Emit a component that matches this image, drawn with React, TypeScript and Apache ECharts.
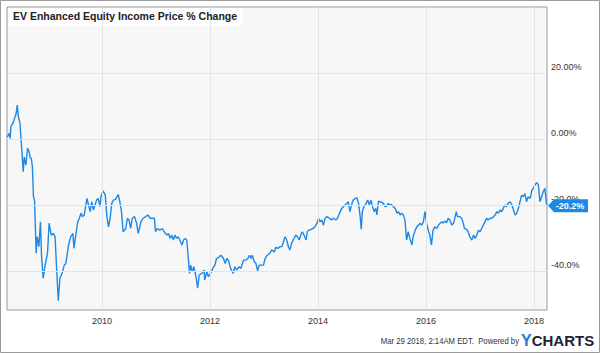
import React, { useEffect, useRef } from "react";
import * as echarts from "echarts";

const years: number[] = [
  2008.24, 2008.25, 2008.28, 2008.30, 2008.31, 2008.36, 2008.41, 2008.43, 2008.45, 2008.48,
  2008.51, 2008.54, 2008.56, 2008.59, 2008.62, 2008.65, 2008.67, 2008.69, 2008.71, 2008.73,
  2008.75, 2008.78, 2008.80, 2008.83, 2008.86, 2008.88, 2008.91, 2008.94, 2008.99, 2009.02,
  2009.06, 2009.10, 2009.13, 2009.16, 2009.19, 2009.22, 2009.26, 2009.30, 2009.33, 2009.38,
  2009.42, 2009.46, 2009.48, 2009.51, 2009.55, 2009.58, 2009.61, 2009.64, 2009.67, 2009.72,
  2009.75, 2009.78, 2009.81, 2009.84, 2009.87, 2009.90, 2009.93, 2009.96, 2009.98, 2010.02,
  2010.06, 2010.09, 2010.12, 2010.15, 2010.18, 2010.21, 2010.25, 2010.30, 2010.33, 2010.36,
  2010.39, 2010.44, 2010.47, 2010.50, 2010.53, 2010.56, 2010.60, 2010.64, 2010.67, 2010.72,
  2010.76, 2010.81, 2010.85, 2010.89, 2010.93, 2010.97, 2010.99, 2011.02, 2011.07, 2011.12,
  2011.15, 2011.20, 2011.23, 2011.26, 2011.29, 2011.32, 2011.35, 2011.38, 2011.41, 2011.44,
  2011.48, 2011.51, 2011.54, 2011.57, 2011.60, 2011.62, 2011.64, 2011.67, 2011.70, 2011.74,
  2011.77, 2011.80, 2011.85, 2011.89, 2011.90, 2011.94, 2011.97, 2012.01, 2012.05, 2012.09,
  2012.12, 2012.17, 2012.20, 2012.25, 2012.28, 2012.31, 2012.34, 2012.38, 2012.43, 2012.46,
  2012.49, 2012.54, 2012.57, 2012.62, 2012.66, 2012.70, 2012.73, 2012.76, 2012.78, 2012.82,
  2012.85, 2012.88, 2012.91, 2012.96, 2012.99, 2013.02, 2013.06, 2013.11, 2013.14, 2013.19,
  2013.22, 2013.26, 2013.30, 2013.33, 2013.36, 2013.39, 2013.42, 2013.45, 2013.48, 2013.51,
  2013.54, 2013.59, 2013.62, 2013.65, 2013.69, 2013.71, 2013.74, 2013.78, 2013.80, 2013.83,
  2013.87, 2013.91, 2013.94, 2013.98, 2014.01, 2014.04, 2014.07, 2014.10, 2014.13, 2014.17,
  2014.21, 2014.25, 2014.28, 2014.33, 2014.36, 2014.41, 2014.44, 2014.47, 2014.50, 2014.53,
  2014.56, 2014.59, 2014.62, 2014.65, 2014.69, 2014.72, 2014.75, 2014.78, 2014.80, 2014.82,
  2014.85, 2014.89, 2014.92, 2014.95, 2014.98, 2015.01, 2015.04, 2015.07, 2015.09, 2015.12,
  2015.15, 2015.18, 2015.21, 2015.24, 2015.27, 2015.30, 2015.33, 2015.36, 2015.39, 2015.43,
  2015.46, 2015.49, 2015.52, 2015.55, 2015.58, 2015.61, 2015.64, 2015.67, 2015.70, 2015.74,
  2015.76, 2015.80, 2015.83, 2015.86, 2015.89, 2015.92, 2015.95, 2015.98, 2016.01, 2016.04,
  2016.07, 2016.10, 2016.13, 2016.16, 2016.20, 2016.23, 2016.26, 2016.29, 2016.32, 2016.35,
  2016.38, 2016.41, 2016.44, 2016.48, 2016.51, 2016.54, 2016.56, 2016.58, 2016.62, 2016.66,
  2016.69, 2016.71, 2016.75, 2016.78, 2016.81, 2016.85, 2016.88, 2016.91, 2016.94, 2016.97,
  2017.00, 2017.03, 2017.06, 2017.09, 2017.12, 2017.15, 2017.19, 2017.22, 2017.25, 2017.28,
  2017.31, 2017.34, 2017.37, 2017.40, 2017.43, 2017.46, 2017.49, 2017.52, 2017.56, 2017.59,
  2017.62, 2017.65, 2017.68, 2017.71, 2017.74, 2017.77, 2017.80, 2017.83, 2017.86, 2017.89,
  2017.93, 2017.96, 2017.99, 2018.02, 2018.05, 2018.08, 2018.11, 2018.14, 2018.17, 2018.20,
  2018.23, 2018.24,
];

const pctChange: number[] = [
  1.0, 0.7, 1.7, 0.2, 3.7, 5.2, 7.8, 10.3, 6.8, 4.8,
  -2.3, -9.9, -5.4, -7.9, -2.8, -3.8, -5.8, -5.8, -8.4, -17.5,
  -18.5, -34.6, -29.6, -32.6, -25.1, -35.7, -42.2, -38.7, -34.6, -25.5,
  -29.1, -28.6, -29.6, -39.7, -49.0, -42.2, -40.7, -38.2, -37.7, -32.1,
  -29.6, -28.6, -33.1, -29.6, -25.1, -24.0, -22.5, -23.5, -23.0, -18.0,
  -20.0, -22.0, -19.0, -21.5, -20.0, -18.5, -18.0, -20.5, -17.5, -15.7,
  -17.0, -23.5, -26.6, -24.0, -19.5, -18.5, -18.3, -16.8, -19.0, -22.0,
  -28.1, -27.1, -24.0, -24.5, -27.1, -24.0, -23.5, -25.5, -28.6, -25.1,
  -24.0, -23.5, -23.0, -24.0, -24.0, -24.0, -28.1, -27.1, -27.6, -27.1,
  -28.1, -29.1, -28.6, -30.1, -29.1, -30.6, -29.1, -30.1, -29.6, -30.6,
  -32.1, -30.6, -30.1, -30.6, -36.7, -40.7, -38.2, -40.2, -38.7, -41.7,
  -45.2, -41.2, -40.7, -39.7, -42.7, -40.2, -41.7, -40.7, -39.2, -38.2,
  -36.2, -35.7, -35.2, -36.2, -37.7, -36.2, -36.7, -39.2, -40.7, -38.7,
  -39.7, -38.7, -39.2, -36.7, -36.7, -36.2, -35.2, -36.2, -35.2, -37.2,
  -37.7, -39.9, -38.2, -38.2, -38.2, -36.2, -35.2, -34.6, -33.6, -34.2,
  -32.8, -33.1, -32.6, -32.6, -31.1, -29.6, -30.6, -32.6, -33.6, -31.6,
  -30.6, -29.1, -29.6, -30.6, -28.6, -28.1, -29.1, -30.6, -28.1, -27.6,
  -27.4, -27.1, -26.6, -25.5, -24.0, -25.1, -24.5, -26.1, -24.0, -23.5,
  -24.0, -24.5, -24.0, -24.5, -24.0, -22.0, -21.0, -20.5, -20.0, -19.5,
  -19.0, -22.0, -20.0, -18.5, -18.0, -17.8, -19.5, -23.5, -27.3, -22.0,
  -20.5, -19.5, -18.5, -20.0, -18.5, -20.5, -22.0, -21.0, -23.0, -18.8,
  -19.0, -19.2, -19.5, -20.5, -20.3, -19.5, -20.0, -19.8, -20.5, -21.0,
  -22.5, -22.0, -23.0, -22.5, -23.0, -24.5, -30.6, -28.1, -30.1, -32.1,
  -29.6, -27.6, -26.6, -26.1, -25.5, -26.1, -25.1, -22.0, -25.5, -27.6,
  -29.1, -32.1, -27.6, -26.6, -27.1, -26.1, -25.5, -25.1, -25.5, -24.8,
  -25.4, -24.0, -24.5, -26.1, -25.5, -23.5, -22.0, -23.5, -23.5, -24.0,
  -25.5, -27.1, -27.4, -28.1, -29.6, -30.6, -29.1, -30.1, -29.1, -27.6,
  -28.1, -27.1, -26.1, -25.1, -24.0, -24.5, -24.0, -24.0, -23.5, -23.0,
  -22.0, -22.5, -21.5, -22.0, -21.0, -20.0, -20.5, -19.5, -19.0, -20.0,
  -21.5, -23.0, -22.5, -21.0, -19.0, -17.0, -17.5, -16.5, -19.0, -17.5,
  -18.0, -15.5, -14.9, -13.9, -13.2, -13.9, -19.0, -17.5, -16.0, -14.9,
  -19.5, -20.2,
];

const xTickYears: number[] = [2010, 2012, 2014, 2016, 2018];
const yTickValues: number[] = [20, 0, -20, -40];
const yTickLabels: string[] = ["20.00%", "0.00%", "-20.0%", "-40.0%"];

const TITLE = "EV Enhanced Equity Income Price % Change";
const FOOTER = "Mar 29 2018, 2:14AM EDT.  Powered by";
const BLUE = "#1e88e5";
const FONT = "'Liberation Sans', Arial, Helvetica, sans-serif";

export default function App() {
  const ref = useRef<HTMLDivElement>(null);

  useEffect(() => {
    if (!ref.current) return;
    const chart = echarts.init(ref.current, null, { renderer: "svg" });
    const seriesData = years.map((y, i) => [y, pctChange[i]]);
    const last = seriesData[seriesData.length - 1];

    const option: any = {
      animation: false,
      textStyle: { fontFamily: FONT },
      grid: {
        left: 7,
        top: 7,
        right: 53,
        bottom: 43,
        show: true,
        backgroundColor: "#f7f7f7",
        borderColor: "#9a9a9a",
        borderWidth: 1,
      },
      xAxis: {
        type: "value",
        min: years[0],
        max: years[years.length - 1],
        axisLine: { show: false },
        axisTick: { show: false },
        splitLine: { show: false },
        axisLabel: {
          customValues: xTickYears,
          formatter: (v: number) => String(Math.round(v)),
          fontSize: 9,
          color: "#333",
          margin: 6,
          fontFamily: FONT,
        },
      },
      yAxis: {
        type: "value",
        position: "right",
        min: -51.8,
        max: 40,
        axisLine: { show: false },
        axisTick: { show: false },
        splitLine: { show: false },
        axisLabel: {
          customValues: yTickValues,
          formatter: (v: number) => {
            const idx = yTickValues.indexOf(Math.round(v));
            return idx >= 0 ? yTickLabels[idx] : "";
          },
          fontSize: 9,
          color: "#333",
          margin: 4,
          verticalAlign: "bottom",
          lineHeight: 13,
          fontFamily: FONT,
        },
      },
      title: {
        text: TITLE,
        left: 13,
        top: 10,
        padding: 0,
        textStyle: {
          fontSize: 10.5,
          fontWeight: "bold",
          color: "#222",
          fontFamily: FONT,
        },
      },
      graphic: [
        {
          type: "rect",
          z: -1,
          shape: { x: 0.5, y: 0.5, width: 599, height: 352 },
          style: { fill: "none", stroke: "#9a9a9a", lineWidth: 1 },
        },
        {
          type: "rect",
          z: 0,
          shape: { x: 8, y: 8, width: 235, height: 18 },
          style: { fill: "rgba(255,255,255,0.75)" },
        },
        {
          type: "text",
          x: 519,
          y: 341,
          scaleX: 0.86,
          style: {
            text: FOOTER,
            align: "right",
            verticalAlign: "middle",
            fontSize: 9,
            fontFamily: FONT,
            fill: "#333",
          },
        },
        {
          type: "text",
          x: 521,
          y: 340,
          style: {
            text: "{y|Y}{c|CHARTS}",
            verticalAlign: "middle",
            rich: {
              y: { fontSize: 16, fontWeight: "bold", fill: "#1f7ad8", fontFamily: FONT },
              c: { fontSize: 15, fontWeight: "bold", fill: "#1c2436", fontFamily: FONT },
            },
          },
        },
      ],
      series: [
        {
          type: "line",
          data: [],
          z: 1,
          silent: true,
          markLine: {
            silent: true,
            symbol: ["none", "none"],
            label: { show: false },
            lineStyle: { color: "#e4e4e4", width: 1, type: "solid" },
            data: [
              ...xTickYears.map((y) => ({ xAxis: y })),
              ...yTickValues.map((v) => ({ yAxis: v })),
            ],
          },
        },
        {
          type: "line",
          data: seriesData,
          z: 3,
          showSymbol: false,
          symbol: "none",
          lineStyle: { color: BLUE, width: 1.4 },
          itemStyle: { color: BLUE },
          markPoint: {
            silent: true,
            symbol: "path://M0,6.5 L6,0 L40,0 L40,13 L6,13 Z",
            symbolSize: [40, 13],
            symbolKeepAspect: false,
            symbolOffset: [21, 0],
            itemStyle: { color: BLUE },
            label: {
              show: true,
              color: "#fff",
              fontSize: 9,
              fontWeight: "bold",
              fontFamily: FONT,
              offset: [2, 0],
              formatter: () => pctChange[pctChange.length - 1].toFixed(1) + "%",
            },
            data: [{ coord: last }],
          },
        },
      ],
    };

    chart.setOption(option);
    return () => chart.dispose();
  }, []);

  return (
    <div
      ref={ref}
      style={{ position: "fixed", left: 0, top: 0, width: 600, height: 353, background: "#fff" }}
    />
  );
}
